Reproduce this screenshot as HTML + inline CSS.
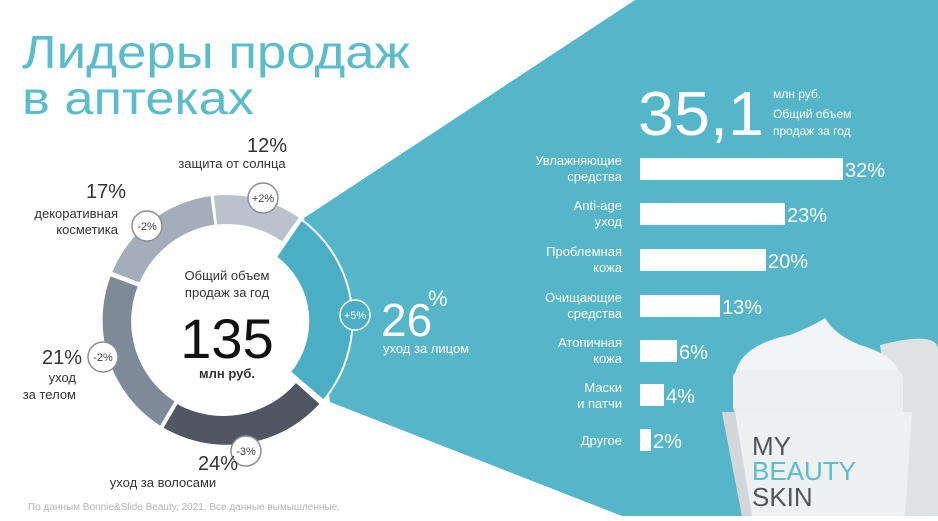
<!DOCTYPE html>
<html><head><meta charset="utf-8"><style>
body{margin:0;width:938px;height:516px;overflow:hidden;background:#fff;font-family:"Liberation Sans","DejaVu Sans",sans-serif}
</style></head><body>
<svg width="938" height="516" viewBox="0 0 938 516" xmlns="http://www.w3.org/2000/svg" font-family="Liberation Sans, DejaVu Sans, sans-serif">
<polygon points="635,0 938,0 938,516 622,516 330,402 304,218" fill="#55b5c9"/>
<text x="22" y="68" font-size="46" fill="#5bbccc" textLength="388" lengthAdjust="spacingAndGlyphs">Лидеры продаж</text>
<text x="22" y="114" font-size="46" fill="#5bbccc" textLength="232" lengthAdjust="spacingAndGlyphs">в аптеках</text>
<g fill="none">
<path d="M213.9,195.7 A125,125 0 0 1 298.7,217.6 L282.1,241.3 A96,96 0 0 0 217,224.5 Z" fill="#b9c2cd" stroke="none"/>
<path d="M301.6,219.7 A125,125 0 0 1 323.4,400.5 L290,372 A80,80 0 0 0 276,257 Z" fill="#4aaec4" stroke="#fff" stroke-width="2"/>
<path d="M319.3,403.9 A125,125 0 0 1 163.7,427.7 L177.3,404.2 A96,96 0 0 0 296,383 Z" fill="#4f5763"/>
<path d="M160.1,425.6 A125,125 0 0 1 110.6,276.4 L137.6,286.4 A96,96 0 0 0 174.5,401.4 Z" fill="#7f8a98"/>
<path d="M112.3,271.9 A125,125 0 0 1 210.5,196.1 L214.3,224.8 A96,96 0 0 0 139.5,282.5 Z" fill="#a4adba"/>
</g>
<g fill="#fff" stroke="#8a8f96" stroke-width="1.5">
<circle cx="263" cy="198" r="15"/><circle cx="147" cy="226" r="15"/><circle cx="103" cy="357" r="15"/><circle cx="246" cy="451" r="15"/>
</g>
<circle cx="355" cy="315" r="15" fill="#4aaec4" stroke="#fff" stroke-width="1.5"/>
<g font-size="11" text-anchor="middle" fill="#444">
<text x="263" y="202">+2%</text><text x="147" y="230">-2%</text><text x="355" y="319" fill="#fff">+5%</text><text x="103" y="361">-2%</text><text x="246" y="455">-3%</text>
</g>
<g fill="#333" font-size="13" text-anchor="middle">
<text x="227" y="280">Общий объем</text><text x="227" y="297">продаж за год</text>
<text x="227" y="358" font-size="56" fill="#111">135</text>
<text x="227" y="378" font-weight="bold">млн руб.</text>
</g>
<g fill="#333">
<text x="267" y="152" font-size="20" text-anchor="middle">12%</text>
<text x="232" y="168" font-size="13" text-anchor="middle">защита от солнца</text>
<text x="126" y="198" font-size="20" text-anchor="end">17%</text>
<text x="118" y="218" font-size="13" text-anchor="end">декоративная</text>
<text x="118" y="234" font-size="13" text-anchor="end">косметика</text>
<text x="82" y="364" font-size="20" text-anchor="end">21%</text>
<text x="76" y="382" font-size="13" text-anchor="end">уход</text>
<text x="76" y="399" font-size="13" text-anchor="end">за телом</text>
<text x="218" y="470" font-size="20" text-anchor="middle">24%</text>
<text x="163" y="487" font-size="13" text-anchor="middle">уход за волосами</text>
</g>
<text x="381" y="336" font-size="46" fill="#fff">26</text>
<text x="428" y="306" font-size="22" fill="#fff">%</text>
<text x="383" y="353" font-size="13" fill="#fff">уход за лицом</text>
<text x="28" y="510" font-size="10" fill="#b5b5b5">По данным Bonnie&amp;Slide Beauty, 2021. Все данные вымышленные.</text>
<text x="638" y="135" font-size="62" fill="#fff" textLength="126" lengthAdjust="spacingAndGlyphs">35,1</text>
<g fill="#fff" font-size="12">
<text x="773" y="98">млн руб.</text><text x="773" y="118">Общий объем</text><text x="773" y="135">продаж за год</text>
</g>
<g fill="#fff" font-size="13" text-anchor="end">
<text x="622" y="165">Увлажняющие</text><text x="622" y="181">средства</text>
<text x="622" y="210">Anti-age</text><text x="622" y="226">уход</text>
<text x="622" y="256">Проблемная</text><text x="622" y="272">кожа</text>
<text x="622" y="302">Очищающие</text><text x="622" y="318">средства</text>
<text x="622" y="347">Атопичная</text><text x="622" y="363">кожа</text>
<text x="622" y="392">Маски</text><text x="622" y="408">и патчи</text>
<text x="622" y="445">Другое</text>
</g>
<g fill="#fff">
<rect x="640" y="158" width="203" height="22"/><rect x="640" y="203" width="145" height="22"/>
<rect x="640" y="249" width="126" height="22"/><rect x="640" y="295" width="80" height="22"/>
<rect x="640" y="340" width="37" height="22"/><rect x="640" y="384" width="24" height="22"/>
<rect x="640" y="429" width="11" height="22"/>
</g>
<g fill="#fff" font-size="20">
<text x="845" y="177">32%</text><text x="787" y="222">23%</text><text x="768" y="268">20%</text>
<text x="722" y="314">13%</text><text x="679" y="359">6%</text><text x="666" y="403">4%</text><text x="653" y="448">2%</text>
</g>
<!-- jar -->
<path d="M880,345 Q938,330 938,350 L938,516 L905,516 Z" fill="#dfe2e5"/>
<path d="M735,375 Q740,345 790,335 Q815,325 825,318 Q835,335 860,345 Q895,355 900,375 Z" fill="#f3f4f5"/>
<rect x="733" y="370" width="170" height="45" rx="8" fill="#eceef0"/>
<path d="M722,412 L912,412 L905,516 L742,516 Z" fill="#eef0f2"/>
<path d="M722,412 L742,516 L752,516 L735,412 Z" fill="#d3d7db"/>
<text x="752" y="455" font-size="26" fill="#555">MY</text>
<text x="752" y="480" font-size="26" fill="#5bbccc">BEAUTY</text>
<text x="752" y="506" font-size="26" fill="#555">SKIN</text>
</svg>
</body></html>
